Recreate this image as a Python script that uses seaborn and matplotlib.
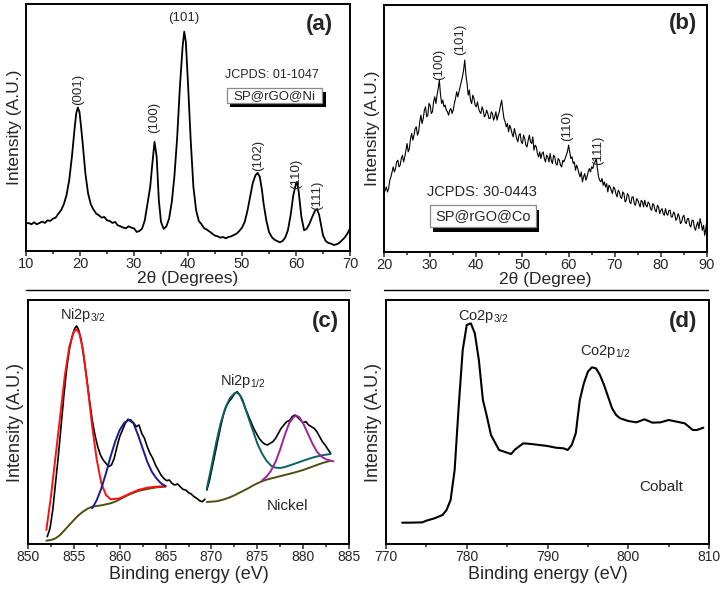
import matplotlib
matplotlib.use("Agg")
import matplotlib.pyplot as plt
import seaborn as sns
from matplotlib.patches import Rectangle
from matplotlib.lines import Line2D
from matplotlib.ticker import MultipleLocator

sns.set_style("ticks")
plt.rcParams["font.family"] = ["Liberation Sans", "DejaVu Sans"]
plt.rcParams["mathtext.fontset"] = "custom"
plt.rcParams["mathtext.rm"] = "Liberation Sans"
plt.rcParams["mathtext.it"] = "Liberation Sans:italic"

# ---- (a) XRD SP@rGO@Ni
xrd_ni_2theta = [10.0, 10.5, 11.0, 11.5, 12.0, 12.5, 13.0, 13.5, 14.0, 14.5, 15.0, 15.5, 16.0, 16.5,
                 17.0, 17.5, 18.0, 18.5, 19.0, 19.3, 19.6, 19.9, 20.2, 20.5, 21.0, 21.5, 22.0, 22.5,
                 23.0, 23.5, 24.0, 24.5, 25.0, 25.5, 26.0, 26.5, 27.0, 27.5, 28.0, 28.5, 29.0, 29.5,
                 30.0, 30.5, 31.0, 31.5, 32.0, 32.5, 33.0, 33.4, 33.8, 34.2, 34.6, 35.0, 35.5, 36.0,
                 36.5, 37.0, 37.5, 38.0, 38.5, 39.0, 39.3, 39.6, 40.0, 40.5, 41.0, 41.5, 42.0, 42.5,
                 43.0, 43.5, 44.0, 44.5, 45.0, 45.5, 46.0, 46.5, 47.0, 47.5, 48.0, 48.5, 49.0, 49.5,
                 50.0, 50.5, 51.0, 51.5, 52.0, 52.5, 52.9, 53.3, 53.7, 54.0, 54.5, 55.0, 55.5, 56.0,
                 56.5, 57.0, 57.5, 58.0, 58.5, 59.0, 59.5, 60.0, 60.2, 60.5, 61.0, 61.5, 62.0, 62.5,
                 63.0, 63.5, 63.9, 64.3, 64.7, 65.0, 65.5, 66.0, 66.5, 67.0, 67.5, 68.0, 68.5, 69.0,
                 69.5, 70.0]
xrd_ni_int = [82, 84, 80, 86, 80, 84, 88, 84, 92, 90, 97, 100, 112, 122,
              140, 167, 212, 282, 367, 412, 430, 417, 372, 322, 232, 172, 140, 124,
              112, 107, 100, 102, 92, 90, 84, 87, 77, 74, 70, 68, 74, 70,
              68, 57, 60, 67, 92, 142, 192, 262, 327, 282, 152, 87, 66, 74,
              97, 147, 227, 342, 492, 612, 657, 627, 502, 332, 192, 122, 90, 80,
              68, 64, 58, 52, 46, 44, 40, 42, 38, 42, 44, 48, 52, 60,
              70, 87, 120, 162, 204, 227, 234, 222, 182, 142, 92, 57, 42, 34,
              30, 26, 30, 40, 62, 107, 167, 202, 207, 177, 102, 62, 67, 82,
              102, 120, 126, 107, 72, 47, 30, 24, 22, 18, 20, 24, 32, 40,
              52, 67]
ni_hkl = ["(001)", "(100)", "(101)", "(102)", "(110)", "(111)"]
ni_hkl_x = [19.6, 33.7, 39.3, 52.9, 60.1, 63.9]
ni_hkl_y = [484, 400, 697, 287, 230, 167]
ni_hkl_rot = [90, 90, 0, 90, 90, 90]

# ---- (b) XRD SP@rGO@Co
xrd_co_2theta = [
    20.0, 20.25, 20.5, 20.75, 21.0, 21.25, 21.5, 21.75, 22.0, 22.25, 22.5, 22.75, 23.0, 23.25,
    23.5, 23.75, 24.0, 24.25, 24.5, 24.75, 25.0, 25.25, 25.5, 25.75, 26.0, 26.25, 26.5, 26.75,
    27.0, 27.25, 27.5, 27.75, 28.0, 28.25, 28.5, 28.75, 29.0, 29.25, 29.5, 29.75, 30.0, 30.25,
    30.5, 30.75, 31.0, 31.25, 31.5, 31.75, 32.0, 32.25, 32.5, 32.75, 33.0, 33.25, 33.5, 33.75,
    34.0, 34.25, 34.5, 34.75, 35.0, 35.25, 35.5, 35.75, 36.0, 36.25, 36.5, 36.75, 37.0, 37.25,
    37.5, 37.75, 38.0, 38.25, 38.5, 38.75, 39.0, 39.25, 39.5, 39.75, 40.0, 40.25, 40.5, 40.75,
    41.0, 41.25, 41.5, 41.75, 42.0, 42.25, 42.5, 42.75, 43.0, 43.25, 43.5, 43.75, 44.0, 44.25,
    44.5, 44.75, 45.0, 45.25, 45.5, 45.75, 46.0, 46.25, 46.5, 46.75, 47.0, 47.25, 47.5, 47.75,
    48.0, 48.25, 48.5, 48.75, 49.0, 49.25, 49.5, 49.75, 50.0, 50.25, 50.5, 50.75, 51.0, 51.25,
    51.5, 51.75, 52.0, 52.25, 52.5, 52.75, 53.0, 53.25, 53.5, 53.75, 54.0, 54.25, 54.5, 54.75,
    55.0, 55.25, 55.5, 55.75, 56.0, 56.25, 56.5, 56.75, 57.0, 57.25, 57.5, 57.75, 58.0, 58.25,
    58.5, 58.75, 59.0, 59.25, 59.5, 59.75, 60.0, 60.25, 60.5, 60.75, 61.0, 61.25, 61.5, 61.75,
    62.0, 62.25, 62.5, 62.75, 63.0, 63.25, 63.5, 63.75, 64.0, 64.25, 64.5, 64.75, 65.0, 65.25,
    65.5, 65.75, 66.0, 66.25, 66.5, 66.75, 67.0, 67.25, 67.5, 67.75, 68.0, 68.25, 68.5, 68.75,
    69.0, 69.25, 69.5, 69.75, 70.0, 70.25, 70.5, 70.75, 71.0, 71.25, 71.5, 71.75, 72.0, 72.25,
    72.5, 72.75, 73.0, 73.25, 73.5, 73.75, 74.0, 74.25, 74.5, 74.75, 75.0, 75.25, 75.5, 75.75,
    76.0, 76.25, 76.5, 76.75, 77.0, 77.25, 77.5, 77.75, 78.0, 78.25, 78.5, 78.75, 79.0, 79.25,
    79.5, 79.75, 80.0, 80.25, 80.5, 80.75, 81.0, 81.25, 81.5, 81.75, 82.0, 82.25, 82.5, 82.75,
    83.0, 83.25, 83.5, 83.75, 84.0, 84.25, 84.5, 84.75, 85.0, 85.25, 85.5, 85.75, 86.0, 86.25,
    86.5, 86.75, 87.0, 87.25, 87.5, 87.75, 88.0, 88.25, 88.5, 88.75, 89.0, 89.25, 89.5, 89.75,
    90.0]
xrd_co_int = [
    175, 185, 195, 180, 190, 215, 225, 240, 255, 240, 250, 270, 275, 255,
    260, 280, 290, 270, 285, 305, 325, 300, 310, 340, 355, 335, 350, 370,
    375, 350, 360, 390, 410, 385, 400, 425, 435, 405, 410, 445, 440, 415,
    420, 450, 465, 445, 470, 490, 515, 470, 445, 455, 435, 440, 425, 420,
    410, 425, 430, 415, 425, 445, 460, 480, 465, 480, 495, 510, 525, 545,
    575, 530, 505, 470, 485, 455, 445, 470, 460, 440, 435, 450, 430, 420,
    415, 435, 425, 405, 410, 425, 415, 400, 400, 420, 415, 395, 405, 420,
    395, 410, 420, 440, 455, 425, 400, 390, 375, 385, 360, 380, 370, 355,
    345, 370, 355, 340, 330, 350, 355, 330, 325, 350, 340, 320, 315, 335,
    350, 330, 325, 345, 305, 320, 315, 295, 285, 300, 280, 295, 300, 280,
    270, 290, 285, 270, 295, 275, 265, 290, 285, 265, 260, 280, 275, 260,
    255, 275, 270, 280, 290, 300, 320, 300, 280, 285, 265, 270, 245, 260,
    250, 235, 225, 240, 210, 225, 235, 215, 225, 240, 250, 240, 255, 250,
    265, 270, 280, 250, 225, 215, 210, 220, 200, 210, 195, 205, 180, 200,
    195, 185, 175, 195, 190, 175, 165, 185, 180, 165, 160, 180, 175, 150,
    155, 175, 170, 150, 145, 165, 165, 145, 140, 160, 155, 145, 135, 155,
    150, 135, 155, 140, 135, 150, 145, 130, 125, 145, 140, 125, 120, 140,
    135, 115, 125, 130, 115, 110, 130, 115, 110, 125, 125, 105, 105, 120,
    115, 95, 100, 115, 105, 85, 90, 105, 110, 90, 85, 100, 100, 80,
    75, 95, 95, 75, 65, 80, 90, 70, 100, 85, 65, 80, 50, 70,
    100]
co_hkl = ["(100)", "(101)", "(110)", "(111)"]
co_hkl_x = [32.0, 36.4, 59.7, 66.5]
co_hkl_y = [563, 637, 377, 305]

# ---- (c) XPS Ni2p
ni_be_1 = [852.1, 852.4, 852.7, 853.0, 853.3, 853.6, 853.9, 854.2, 854.5, 854.8, 855.1, 855.3, 855.5,
           855.8, 856.1, 856.4, 856.7, 857.0, 857.3, 857.6, 857.9, 858.2, 858.5, 858.8, 859.1, 859.4,
           859.7, 860.0, 860.3, 860.6, 860.9, 861.2, 861.5, 861.8, 862.1, 862.4, 862.7, 863.0, 863.3,
           863.6, 863.9, 864.2, 864.5, 864.8, 865.1, 865.4, 865.7, 866.0, 866.3, 866.6, 866.9, 867.2,
           867.5, 867.8, 868.1, 868.4, 868.7, 869.0, 869.3]
ni_cps_1 = [22, 47, 102, 182, 262, 352, 442, 522, 582, 622, 647, 654, 644,
            612, 557, 497, 432, 372, 327, 292, 267, 252, 242, 232, 237, 257,
            292, 322, 342, 362, 374, 372, 364, 352, 357, 332, 317, 292, 272,
            257, 237, 222, 207, 197, 190, 192, 182, 177, 180, 172, 164, 162,
            154, 150, 142, 137, 130, 127, 134]
ni_be_2 = [869.5, 869.8, 870.1, 870.4, 870.7, 871.0, 871.3, 871.6, 871.9, 872.2, 872.5, 872.8, 873.1,
           873.4, 873.7, 874.0, 874.3, 874.6, 874.9, 875.2, 875.5, 875.8, 876.1, 876.4, 876.7, 877.0,
           877.3, 877.6, 877.9, 878.2, 878.5, 878.8, 879.1, 879.4, 879.7, 880.0, 880.3, 880.6, 880.9,
           881.2, 881.5, 881.8, 882.1, 882.4, 882.7, 883.0]
ni_cps_2 = [162, 192, 232, 272, 312, 352, 387, 412, 427, 437, 450, 457, 447,
            432, 407, 387, 367, 347, 332, 317, 307, 300, 297, 302, 307, 317,
            332, 347, 357, 367, 370, 382, 387, 380, 372, 364, 367, 357, 352,
            347, 337, 322, 307, 297, 284, 272]
fit_red_be = [852.0, 852.5, 853.0, 853.5, 854.0, 854.5, 855.0, 855.3, 855.6, 856.0, 856.5, 857.0,
              857.5, 858.0, 858.5, 859.0, 860.0, 861.0, 862.0, 863.0, 864.0, 865.0]
fit_red = [42, 142, 262, 382, 502, 592, 637, 644, 632, 582, 472, 352,
           252, 182, 147, 134, 137, 150, 162, 169, 172, 174]
fit_blue_be = [857.0, 857.5, 858.0, 858.5, 859.0, 859.5, 860.0, 860.5, 861.0, 861.5, 862.0, 862.5,
               863.0, 863.5, 864.0, 864.5, 865.0]
fit_blue = [107, 132, 167, 212, 262, 307, 342, 364, 372, 362, 327, 287,
            247, 217, 197, 182, 174]
bg_1_be = [852.0, 852.5, 853.0, 853.5, 854.0, 854.5, 855.0, 855.5, 856.0, 856.5, 857.0, 857.5,
           858.0, 858.5, 859.0, 859.5, 860.0, 860.5, 861.0, 862.0, 863.0, 864.0, 865.0]
bg_1 = [10, 12, 17, 27, 42, 57, 72, 86, 97, 106, 112, 114,
        116, 119, 122, 127, 134, 141, 148, 159, 165, 170, 172]
bg_2_be = [869.5, 870.0, 870.5, 871.0, 871.5, 872.0, 872.5, 873.0, 873.5, 874.0, 874.5, 875.0,
           875.5, 876.0, 877.0, 878.0, 879.0, 880.0, 881.0, 882.0, 883.0]
bg_2 = [126, 127, 128, 131, 135, 140, 146, 153, 160, 167, 175, 182,
        188, 193, 200, 207, 214, 222, 232, 242, 250]
fit_teal_be = [869.5, 870.0, 870.5, 871.0, 871.5, 872.0, 872.5, 872.8, 873.1, 873.5, 874.0, 874.5,
               875.0, 875.5, 876.0, 876.5, 877.0, 877.5, 878.0, 879.0, 880.0, 881.0, 882.0, 883.0]
fit_teal = [167, 232, 302, 362, 407, 437, 452, 454, 447, 422, 382, 342,
            302, 272, 250, 235, 229, 228, 231, 240, 250, 259, 266, 270]
fit_mag_be = [875.5, 876.0, 876.5, 877.0, 877.5, 878.0, 878.5, 879.0, 879.3, 879.6, 880.0, 880.5,
              881.0, 881.5, 882.0, 882.5, 883.0, 883.3]
fit_mag = [190, 202, 220, 247, 284, 327, 364, 382, 385, 380, 362, 332,
           302, 277, 262, 254, 250, 248]

# ---- (d) XPS Co2p
co_be = [772.0, 773.0, 774.5, 775.0, 776.0, 777.0, 777.5, 778.0, 778.5, 779.0, 779.5, 780.0, 780.5,
         781.0, 781.5, 782.0, 782.5, 783.0, 784.0, 785.0, 785.5, 786.0, 787.0, 788.0, 789.0, 790.0,
         791.0, 792.0, 792.5, 793.0, 793.5, 794.0, 794.5, 795.0, 795.5, 796.0, 796.5, 797.0, 797.5,
         798.0, 798.5, 799.0, 800.0, 801.0, 802.0, 803.0, 804.0, 805.0, 806.0, 807.0, 808.0, 808.5,
         809.3]
co_cps = [64, 64, 65, 70, 77, 87, 102, 132, 222, 412, 582, 657, 662,
          632, 552, 432, 382, 327, 282, 274, 270, 284, 302, 300, 297, 294,
          289, 287, 282, 297, 332, 432, 482, 517, 530, 527, 507, 477, 442,
          407, 387, 377, 369, 365, 374, 364, 365, 372, 367, 362, 342, 342,
          349]


def style_axis(ax, xlim, ylim, step, minor, xlabel, tick_fs, lab_fs, xpad):
    ax.set_xlim(xlim)
    ax.set_ylim(ylim)
    ax.xaxis.set_major_locator(MultipleLocator(step))
    ax.xaxis.set_minor_locator(MultipleLocator(minor))
    ax.set_yticks([])
    ax.tick_params(axis="x", which="major", direction="out", length=3.5, width=1.1,
                   labelsize=tick_fs, pad=0.5)
    ax.tick_params(axis="x", which="minor", direction="out", length=2.2, width=1.1)
    for s in ax.spines.values():
        s.set_visible(True)
        s.set_linewidth(1.4)
        s.set_color("black")
    ax.set_xlabel(xlabel, fontsize=lab_fs, labelpad=xpad)
    ax.set_ylabel("Intensity (A.U.)", fontsize=lab_fs, labelpad=3)


def shadow_box(ax, x0, y0, w, h, dx, dy, label, fs):
    ax.add_patch(Rectangle((x0 + dx, y0 - dy), w, h, transform=ax.transAxes,
                           facecolor="black", edgecolor="none", zorder=4))
    ax.add_patch(Rectangle((x0, y0), w, h, transform=ax.transAxes,
                           facecolor="white", edgecolor="#8a8a8a", lw=0.9, zorder=5))
    ax.text(x0 + w / 2, y0 + h / 2, label, transform=ax.transAxes, ha="center",
            va="center", fontsize=fs, zorder=6)


fig = plt.figure(figsize=(7.26, 5.91), dpi=100)
ax_a = fig.add_axes([26 / 726, 1 - 251 / 591, 324 / 726, 247 / 591])
ax_b = fig.add_axes([384 / 726, 1 - 252 / 591, 323 / 726, 247 / 591])
ax_c = fig.add_axes([28 / 726, 1 - 544 / 591, 321 / 726, 244 / 591])
ax_d = fig.add_axes([386 / 726, 1 - 544 / 591, 323 / 726, 244 / 591])

# (a)
sns.lineplot(x=xrd_ni_2theta, y=xrd_ni_int, ax=ax_a, color="black", lw=1.3)
style_axis(ax_a, (10, 70), (0, 740), 10, 5, "2θ (Degrees)", 10.5, 12.5, 0)
for lab, x, y, r in zip(ni_hkl, ni_hkl_x, ni_hkl_y, ni_hkl_rot):
    ax_a.text(x, y, lab, rotation=r, ha="center", va="center", fontsize=9.5)
ax_a.text(0.907, 0.915, "(a)", transform=ax_a.transAxes, ha="center", va="center",
          fontsize=16, fontweight="bold")
ax_a.text(0.759, 0.713, "JCPDS: 01-1047", transform=ax_a.transAxes, ha="center",
          va="center", fontsize=9)
shadow_box(ax_a, 0.619, 0.600, 0.296, 0.058, 0.011, 0.016, "SP@rGO@Ni", 9.5)

# (b)
sns.lineplot(x=xrd_co_2theta, y=xrd_co_int, ax=ax_b, color="black", lw=0.8)
style_axis(ax_b, (20, 90), (0, 740), 10, 5, "2θ (Degree)", 10.5, 12.5, 0)
for lab, x, y in zip(co_hkl, co_hkl_x, co_hkl_y):
    ax_b.text(x, y, lab, rotation=90, ha="center", va="center", fontsize=9.5)
ax_b.text(0.926, 0.927, "(b)", transform=ax_b.transAxes, ha="center", va="center",
          fontsize=16, fontweight="bold")
ax_b.text(0.302, 0.244, "JCPDS: 30-0443", transform=ax_b.transAxes, ha="center",
          va="center", fontsize=10.5)
shadow_box(ax_b, 0.142, 0.100, 0.328, 0.090, 0.011, 0.018, "SP@rGO@Co", 10.5)

# (c)
for xs, ys, col in [(bg_1_be, bg_1, "#4f4f12"), (bg_2_be, bg_2, "#4f4f12"),
                    (fit_red_be, fit_red, "#ff1010"), (fit_blue_be, fit_blue, "#1c1c8c"),
                    (fit_teal_be, fit_teal, "#0b6262"), (fit_mag_be, fit_mag, "#a3229c")]:
    sns.lineplot(x=xs, y=ys, ax=ax_c, color=col, lw=1.4)
sns.lineplot(x=ni_be_1, y=ni_cps_1, ax=ax_c, color="black", lw=1.2, zorder=1)
sns.lineplot(x=ni_be_2, y=ni_cps_2, ax=ax_c, color="black", lw=1.2, zorder=1)
style_axis(ax_c, (850, 885), (0, 732), 5, 2.5, "Binding energy (eV)", 10, 13, 1.5)
ax_c.text(853.45, 687, "Ni2p$_{3/2}$", ha="left", va="center", fontsize=10.5)
ax_c.text(870.9, 490, "Ni2p$_{1/2}$", ha="left", va="center", fontsize=10.5)
ax_c.text(876.0, 114, "Nickel", ha="left", va="center", fontsize=11)
ax_c.text(0.928, 0.91, "(c)", transform=ax_c.transAxes, ha="center", va="center",
          fontsize=16, fontweight="bold")

# (d)
sns.lineplot(x=co_be, y=co_cps, ax=ax_d, color="black", lw=1.5)
style_axis(ax_d, (770, 810), (0, 732), 10, 5, "Binding energy (eV)", 10, 13, 1.5)
ax_d.text(778.9, 682, "Co2p$_{3/2}$", ha="left", va="center", fontsize=10.5)
ax_d.text(794.0, 577, "Co2p$_{1/2}$", ha="left", va="center", fontsize=10.5)
ax_d.text(801.4, 172, "Cobalt", ha="left", va="center", fontsize=11)
ax_d.text(0.92, 0.91, "(d)", transform=ax_d.transAxes, ha="center", va="center",
          fontsize=16, fontweight="bold")

# separator lines under the top row
fig.add_artist(Line2D([26 / 726, 350 / 726], [1 - 290 / 591] * 2, color="black", lw=1))
fig.add_artist(Line2D([384 / 726, 708 / 726], [1 - 290 / 591] * 2, color="black", lw=1))

fig.savefig("out.png", dpi=100)
